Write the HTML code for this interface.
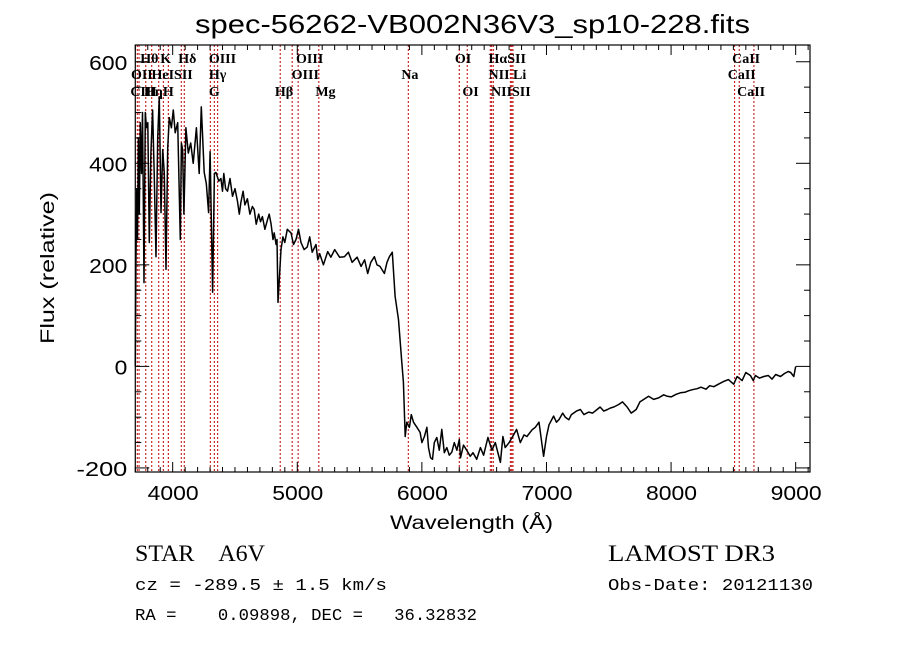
<!DOCTYPE html>
<html><head><meta charset="utf-8">
<style>
html,body{margin:0;padding:0;background:#fff;}
svg{display:block;}
.t{font-family:"Liberation Sans",sans-serif;fill:#000;}
.s{font-family:"Liberation Serif",serif;fill:#000;}
.m{font-family:"Liberation Mono",monospace;fill:#000;white-space:pre;}
</style></head>
<body>
<svg id="chart" width="900" height="649" viewBox="0 0 900 649" xmlns="http://www.w3.org/2000/svg">
<rect x="0" y="0" width="900" height="649" fill="#fff"/>
<text class="t" x="195" y="33" font-size="26" textLength="555" lengthAdjust="spacingAndGlyphs">spec-56262-VB002N36V3_sp10-228.fits</text>
<text class="t" x="54" y="268" font-size="19" text-anchor="middle" textLength="152" lengthAdjust="spacingAndGlyphs" transform="rotate(-90 54 268)">Flux (relative)</text>
<text class="t" x="390" y="529" font-size="19" textLength="163" lengthAdjust="spacingAndGlyphs">Wavelength (Å)</text>
<g id="lines"></g>
<g id="spec"></g>
<g id="axes"></g>
<text class="s" x="135" y="561" font-size="23" textLength="130" lengthAdjust="spacingAndGlyphs">STAR &#160;&#160;&#160;A6V</text>
<text class="s" x="608" y="561" font-size="23" textLength="167" lengthAdjust="spacingAndGlyphs">LAMOST DR3</text>
<text class="m" x="135" y="590" font-size="17" textLength="252" lengthAdjust="spacingAndGlyphs" xml:space="preserve">cz = -289.5 ± 1.5 km/s</text>
<text class="m" x="608" y="590" font-size="17" textLength="205" lengthAdjust="spacingAndGlyphs">Obs-Date: 20121130</text>
<text class="m" x="135" y="620" font-size="17" textLength="342" lengthAdjust="spacingAndGlyphs" xml:space="preserve">RA =    0.09898, DEC =   36.32832</text>
</svg>
<script>
const waves=[3700,3705,3712,3718,3725,3732,3740,3750,3758,3764,3770,3780,3790,3800,3812,3825,3839,3852,3866,3880,3893,3906,3920,3933,3946,3960,3973,3990,4005,4020,4040,4061,4070,4080,4090,4106,4125,4145,4165,4190,4213,4230,4253,4270,4288,4300,4320,4335,4347,4370,4387,4400,4410,4425,4440,4460,4480,4500,4520,4535,4547,4565,4580,4600,4620,4640,4654,4670,4690,4705,4720,4740,4761,4775,4790,4805,4815,4830,4837,4845,4869,4885,4900,4920,4950,4970,4990,5010,5030,5055,5080,5100,5120,5150,5165,5180,5210,5244,5270,5300,5340,5378,5410,5440,5480,5512,5540,5565,5590,5619,5640,5664,5699,5720,5739,5763,5785,5812,5839,5852,5866,5879,5900,5915,5933,5960,5986,6000,6020,6040,6053,6070,6085,6100,6120,6140,6160,6180,6200,6220,6240,6260,6281,6300,6310,6334,6360,6388,6410,6440,6470,6495,6530,6562,6589,6610,6630,6650,6669,6700,6736,6760,6790,6820,6843,6884,6910,6940,6977,7000,7020,7057,7080,7100,7130,7151,7180,7200,7240,7272,7300,7340,7370,7406,7430,7460,7490,7513,7540,7580,7610,7647,7680,7720,7750,7781,7820,7860,7900,7941,7970,8000,8040,8075,8110,8140,8170,8209,8240,8280,8310,8343,8380,8420,8460,8503,8530,8570,8600,8637,8660,8677,8710,8744,8780,8810,8840,8878,8910,8940,8960,8985,9000,9025];
const flux=[0,200,350,250,450,300,480,380,500,330,165,500,470,480,244,420,505,380,216,450,531,303,427,380,191,430,490,470,505,460,480,250,440,427,300,470,420,440,400,470,380,511,382,360,303,423,146,380,382,365,370,345,380,350,345,370,335,350,325,300,322,345,318,330,300,315,309,280,300,285,295,270,289,300,280,250,263,240,250,126,230,255,244,270,263,240,250,270,244,230,235,255,225,240,210,222,200,226,215,230,215,216,225,205,215,197,210,183,205,216,200,197,183,205,216,225,138,92,8,-31,-138,-110,-120,-95,-110,-120,-130,-150,-138,-120,-160,-180,-183,-150,-140,-165,-124,-170,-160,-175,-169,-150,-165,-144,-180,-155,-165,-177,-170,-183,-160,-175,-140,-165,-150,-170,-189,-138,-160,-150,-135,-124,-150,-135,-138,-125,-120,-110,-177,-138,-115,-98,-110,-105,-92,-100,-105,-95,-88,-85,-95,-90,-92,-85,-80,-88,-85,-82,-80,-75,-70,-80,-92,-85,-70,-65,-59,-65,-62,-56,-59,-60,-55,-52,-51,-48,-46,-44,-41,-45,-38,-40,-35,-30,-26,-35,-20,-28,-12,-18,-28,-18,-23,-20,-18,-25,-16,-20,-14,-10,-12,-20,0];
const lineWaves=[3716,3730,3784,3832,3888,3925,3965,4069,4093,4302,4334,4361,4863,4959,5007,5173,5891,6300,6364,6549,6560,6573,6710,6721,6731,8510,8547,8665];
const labelTexts=["Hθ","K","Hδ","OIII","OIII","OI","HαSII","CaII","OII","HeISII","Hγ","OIII","Na","NII Li","CaII","CIII","HηH","G","Hβ","Mg","OI","NIISII","CaII"];
const labelWaves=[3740,3900,4045,4290,4990,6265,6535,8490,3665,3830,4290,4955,5835,6535,8455,3660,3770,4290,4820,5145,6325,6555,8530];
const labelRows=[0,0,0,0,0,0,0,0,1,1,1,1,1,1,1,2,2,2,2,2,2,2,2];
const xTicks=[4000,5000,6000,7000,8000,9000];
const yTicks=[-200,0,200,400,600];

const X0=135.3,X1=810,Y0=45,Y1=472,WMIN=3700,WMAX=9115,FMIN=-208,FMAX=633;
const xs=w=>X0+(w-WMIN)/(WMAX-WMIN)*(X1-X0);
const ys=f=>Y1-(f-FMIN)/(FMAX-FMIN)*(Y1-Y0);
const NS="http://www.w3.org/2000/svg";
function mk(tag,attrs,parent){const e=document.createElementNS(NS,tag);for(const k in attrs)e.setAttribute(k,attrs[k]);parent.appendChild(e);return e;}

const gl=document.getElementById('lines');
lineWaves.forEach(w=>{
  const l=mk('line',{x1:xs(w),x2:xs(w),y1:Y0,y2:Y1,stroke:'#c00000','stroke-width':1,'stroke-dasharray':'2,2'},gl);
  
  
});
const rowY=[63,79,96];
labelTexts.forEach((t,i)=>{
  const e=mk('text',{x:xs(labelWaves[i]),y:rowY[labelRows[i]],'font-size':14,'font-weight':'bold',class:'s'},gl);
  e.textContent=t;
  
  
});

const gs=document.getElementById('spec');
let d='';
waves.forEach((w,i)=>{d+=(i?'L':'M')+xs(w).toFixed(1)+','+ys(flux[i]).toFixed(1);});
const p=mk('path',{d:d,fill:'none',stroke:'#000','stroke-width':1.5,'stroke-linejoin':'round'},gs);



const ga=document.getElementById('axes');
const fr=mk('rect',{x:X0,y:Y0,width:X1-X0,height:Y1-Y0,fill:'none',stroke:'#000','stroke-width':1.2},ga);


for(let w=3700;w<=9100;w+=100){
  const L=(w%1000===0)?10:5;
  mk('line',{x1:xs(w),x2:xs(w),y1:Y1,y2:Y1-L,stroke:'#000','stroke-width':1},ga);
  mk('line',{x1:xs(w),x2:xs(w),y1:Y0,y2:Y0+L,stroke:'#000','stroke-width':1},ga);
}
xTicks.forEach(w=>{
  const e=mk('text',{x:xs(w)-25,y:Y1+28,'font-size':20,textLength:51,lengthAdjust:'spacingAndGlyphs',class:'t'},ga);
  e.textContent=w;
  
  
});
for(let f=-200;f<=600;f+=50){
  const L=(f%200===0)?14:6;
  mk('line',{x1:X0,x2:X0+L,y1:ys(f),y2:ys(f),stroke:'#000','stroke-width':1},ga);
  mk('line',{x1:X1,x2:X1-L,y1:ys(f),y2:ys(f),stroke:'#000','stroke-width':1},ga);
}
yTicks.forEach(f=>{
  const s=String(f);
  const w=s.length*12.7;
  const e=mk('text',{x:X0-8-w,y:ys(f)+8,'font-size':20,textLength:w,lengthAdjust:'spacingAndGlyphs',class:'t'},ga);
  e.textContent=s;
  
  
});
</script>
</body></html>
